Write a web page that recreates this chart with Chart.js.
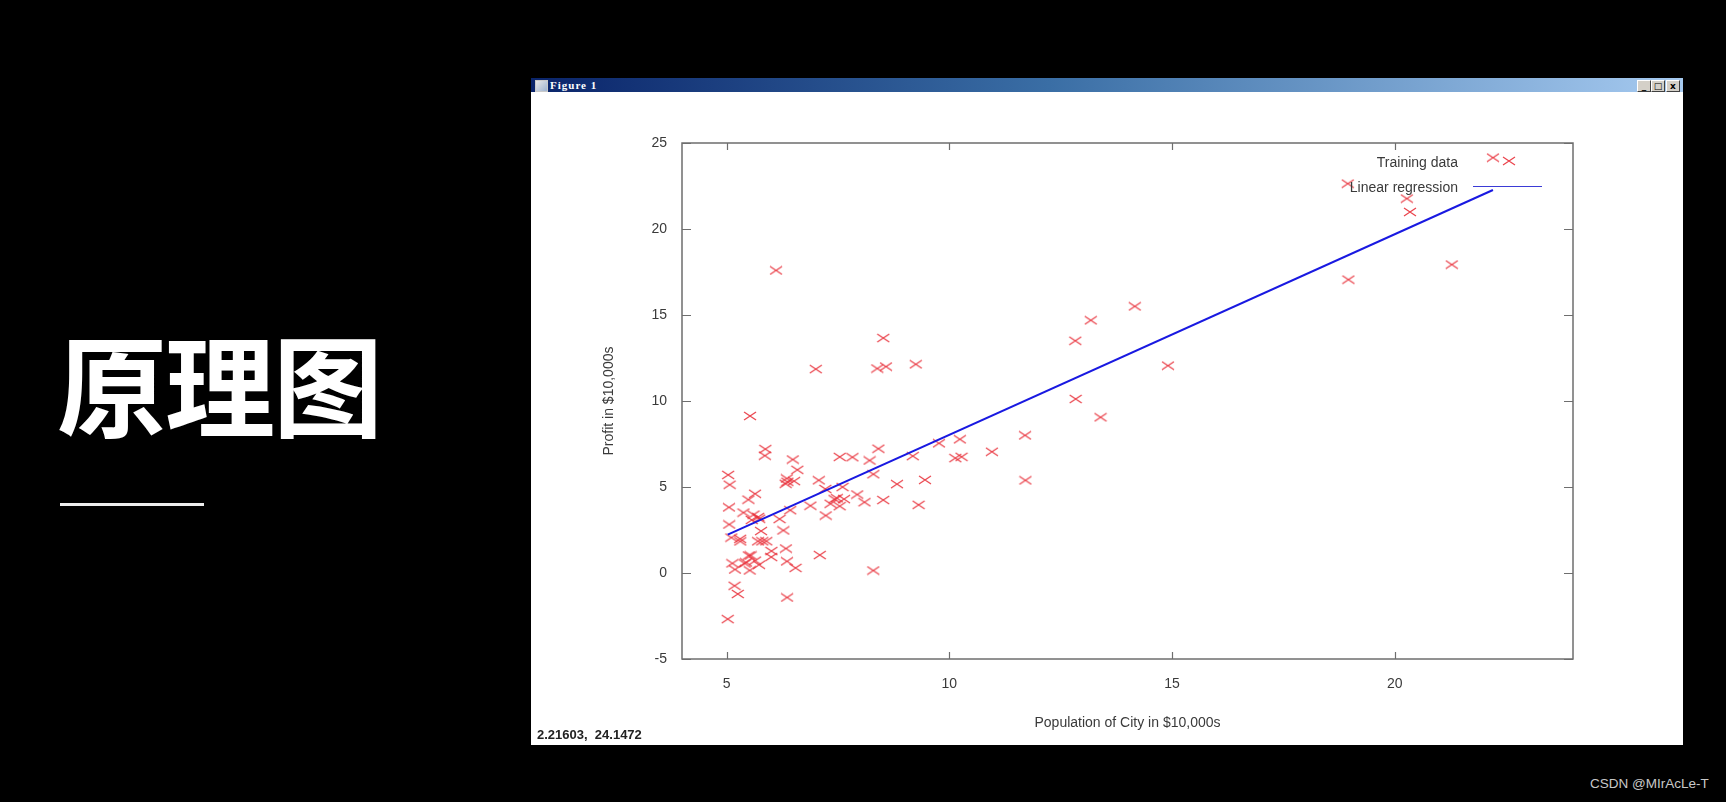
<!DOCTYPE html>
<html>
<head>
<meta charset="utf-8">
<script src="https://cdn.jsdelivr.net/npm/chart.js@4.4.1/dist/chart.umd.min.js"></script>
<style>
  html, body { margin: 0; padding: 0; }
  body {
    width: 1726px; height: 802px; overflow: hidden;
    background: #000; position: relative;
    font-family: "Liberation Sans", Arial, sans-serif;
  }
  #title {
    position: absolute; left: 57px; top: 326px; margin: 0;
    font-family: "Noto Sans CJK SC", sans-serif; font-weight: 700;
    font-size: 110px; line-height: 1; color: #fff; letter-spacing: -2px;
  }
  #rule { position: absolute; left: 60px; top: 503px; width: 144px; height: 3px; background: #eee; }
  #win { position: absolute; left: 531px; top: 78px; width: 1152px; height: 667px; background: #fff; }
  #bar {
    position: absolute; left: 0; top: 0; width: 1152px; height: 14px;
    background: linear-gradient(to right, #0a246a 0%, #3a6ea5 45%, #a6caf0 100%);
  }
  #icon {
    position: absolute; left: 4px; top: 2px; width: 11px; height: 10px;
    background: linear-gradient(135deg, #e8e8e8, #9fb4d0); border: 1px solid #c9c9c9;
  }
  #figname {
    position: absolute; left: 19px; top: 0; line-height: 14px;
    font-family: "Liberation Serif", serif; font-weight: 700; font-size: 11px;
    letter-spacing: 1px; color: #fff;
  }
  .btn {
    position: absolute; top: 2px; width: 12px; height: 10px; background: #d4d0c8;
    border-top: 1px solid #fff; border-left: 1px solid #fff;
    border-right: 1px solid #404040; border-bottom: 1px solid #404040;
    font: bold 9px/10px "DejaVu Sans", sans-serif; color: #000; text-align: center;
  }
  #chartBox { position: absolute; left: 0; top: 14px; width: 1152px; height: 653px; }
  #status {
    position: absolute; left: 6px; top: 649px;
    font-weight: 700; font-size: 13px; color: #222; white-space: pre;
  }
  #mark { position: absolute; left: 1590px; top: 776px; font-size: 13.5px; color: #c8c8c8; }
</style>
</head>
<body>
<h1 id="title">原理图</h1>
<div id="rule"></div>

<div id="win">
  <div id="bar">
    <div id="icon"></div>
    <div id="figname">Figure 1</div>
    <div class="btn" style="left:1106px">_</div>
    <div class="btn" style="left:1120px">□</div>
    <div class="btn" style="left:1135px">x</div>
  </div>
  <div id="chartBox"><canvas id="c" width="1152" height="653"></canvas></div>
  <div id="status">2.21603,  24.1472</div>
</div>

<div id="mark">CSDN @MIrAcLe-T</div>

<script>
// training data: population of city (x) and profit (y), both in $10,000s
const population = [
  6.1101, 5.5277, 8.5186, 7.0032, 5.8598, 8.3829, 7.4764, 8.5781, 6.4862, 5.0546,
  5.7107, 14.164, 5.734, 8.4084, 5.6407, 5.3794, 6.3654, 5.1301, 6.4296, 7.0708,
  6.1891, 20.27, 5.4901, 6.3261, 5.5649, 18.945, 12.828, 10.957, 13.176, 22.203,
  5.2524, 6.5894, 9.2482, 5.8918, 8.2111, 7.9334, 8.0959, 5.6063, 12.836, 6.3534,
  5.4069, 6.8825, 11.708, 5.7737, 7.8247, 7.0931, 5.0702, 5.8014, 11.7, 5.5416,
  7.5402, 5.3077, 7.4239, 7.6031, 6.3328, 6.3589, 6.2742, 5.6397, 9.3102, 9.4536,
  8.8254, 5.1793, 21.279, 14.908, 18.959, 7.2182, 8.2951, 10.236, 5.4994, 20.341,
  10.136, 7.3345, 6.0062, 7.2259, 5.0269, 6.5479, 7.5386, 5.0365, 10.274, 5.1077,
  5.7292, 5.1884, 6.3557, 9.7687, 6.5159, 8.5172, 9.1802, 6.002, 5.5204, 5.0594,
  5.7077, 7.6366, 5.8707, 5.3054, 8.2934, 13.394, 5.4369
];
const profit = [
  17.592, 9.1302, 13.662, 11.854, 6.8233, 11.886, 4.3483, 12, 6.5987, 3.8166,
  3.2522, 15.505, 3.1551, 7.2258, 0.71618, 3.5129, 5.3048, 0.56077, 3.6518, 5.3893,
  3.1386, 21.767, 4.263, 5.1875, 3.0825, 22.638, 13.501, 7.0467, 14.692, 24.147,
  -1.22, 5.9966, 12.134, 1.8495, 6.5426, 4.5623, 4.1164, 3.3928, 10.117, 5.4974,
  0.55657, 3.9115, 5.3854, 2.4406, 6.7318, 1.0463, 5.1337, 1.844, 8.0043, 1.0179,
  6.7504, 1.8396, 4.2885, 4.9981, 1.4233, -1.4211, 2.4756, 4.6042, 3.9624, 5.4141,
  5.1694, -0.74279, 17.929, 12.054, 17.054, 4.8852, 5.7442, 7.7754, 1.0173, 20.992,
  6.6799, 4.0259, 1.2784, 3.3411, -2.6807, 0.29678, 3.8845, 5.7014, 6.7526, 2.0576,
  0.47953, 0.20421, 0.67861, 7.5435, 5.3436, 4.2415, 6.7981, 0.92695, 0.152, 2.8214,
  1.8451, 4.2959, 7.2029, 1.9869, 0.14454, 9.0551, 0.61705
];

// fitted line, end points
const lineX = [5.0269, 22.203];
const lineY = [2.2331, 22.2675];

const xTicks = [5, 10, 15, 20];
const yTicks = [-5, 0, 5, 10, 15, 20, 25];

const labelFont = { family: "'Liberation Sans', Arial, sans-serif", size: 14 };
const textColor = '#3a3a3a';
const axisColor = '#6e6e6e';

// octave style 'x' marker, a bit wider than tall
const marker = document.createElement('canvas');
marker.width = 14;
marker.height = 10;
{
  const m = marker.getContext('2d');
  m.strokeStyle = 'rgba(232, 45, 55, 0.9)';
  m.lineWidth = 1.2;
  m.beginPath();
  m.moveTo(1, 1); m.lineTo(13, 9);
  m.moveTo(13, 1); m.lineTo(1, 9);
  m.stroke();
}

// box round the plot with ticks pointing inwards on all four sides
const frame = {
  id: 'frame',
  afterDatasetsDraw(chart) {
    const { ctx, chartArea: a, scales } = chart;
    ctx.save();
    ctx.strokeStyle = axisColor;
    ctx.lineWidth = 1.5;
    ctx.strokeRect(a.left, a.top, a.right - a.left, a.bottom - a.top);
    ctx.lineWidth = 1.2;
    ctx.beginPath();
    scales.x.ticks.forEach(t => {
      const px = Math.round(scales.x.getPixelForValue(t.value)) + 0.5;
      ctx.moveTo(px, a.bottom); ctx.lineTo(px, a.bottom - 7);
      ctx.moveTo(px, a.top); ctx.lineTo(px, a.top + 7);
    });
    scales.y.ticks.forEach(t => {
      const py = Math.round(scales.y.getPixelForValue(t.value)) + 0.5;
      ctx.moveTo(a.left, py); ctx.lineTo(a.left + 9, py);
      ctx.moveTo(a.right, py); ctx.lineTo(a.right - 9, py);
    });
    ctx.stroke();
    ctx.restore();
  }
};

// legend in the top right corner: text first, sample on its right
const legendBox = {
  id: 'legendBox',
  afterDraw(chart) {
    const { ctx, chartArea: a } = chart;
    const ds = chart.data.datasets;
    const textRight = a.right - 115;
    ctx.save();
    ctx.font = "14px 'Liberation Sans', Arial, sans-serif";
    ctx.fillStyle = textColor;
    ctx.textAlign = 'right';
    ctx.textBaseline = 'middle';
    ctx.fillText(ds[1].label, textRight, a.top + 20);
    ctx.fillText(ds[0].label, textRight, a.top + 45);
    ctx.drawImage(marker, textRight + 44, a.top + 13);
    ctx.strokeStyle = '#3b3bd6';
    ctx.lineWidth = 1.2;
    ctx.beginPath();
    ctx.moveTo(textRight + 15, a.top + 43.5);
    ctx.lineTo(textRight + 84, a.top + 43.5);
    ctx.stroke();
    ctx.restore();
  }
};

new Chart(document.getElementById('c'), {
  type: 'scatter',
  data: {
    datasets: [
      {
        label: 'Linear regression',
        data: lineX.map((x, i) => ({ x, y: lineY[i] })),
        showLine: true,
        borderColor: 'rgb(25, 25, 225)',
        borderWidth: 2,
        pointRadius: 0,
        order: 0
      },
      {
        label: 'Training data',
        data: population.map((x, i) => ({ x, y: profit[i] })),
        pointStyle: marker,
        order: 1
      }
    ]
  },
  options: {
    responsive: false,
    animation: false,
    layout: { padding: { top: 51, right: 110, left: 0, bottom: 0 } },
    plugins: {
      legend: { display: false },
      tooltip: { enabled: false }
    },
    scales: {
      x: {
        type: 'linear',
        min: 4,
        max: 24,
        grid: { display: false, drawTicks: false },
        border: { display: false },
        ticks: { padding: 17, color: textColor, font: labelFont },
        afterBuildTicks: s => { s.ticks = xTicks.map(v => ({ value: v })) },
        title: {
          display: true, text: 'Population of City in $10,000s',
          color: textColor, font: labelFont, padding: { top: 0, bottom: 13.6 }
        },
        afterFit: s => { s.height = 86 }
      },
      y: {
        type: 'linear',
        min: -5,
        max: 25,
        grid: { display: false, drawTicks: false },
        border: { display: false },
        ticks: { padding: 15, color: textColor, font: labelFont },
        afterBuildTicks: s => { s.ticks = yTicks.map(v => ({ value: v })) },
        title: {
          display: true, text: 'Profit in $10,000s',
          color: textColor, font: labelFont, padding: { top: 69.6, bottom: 0 }
        },
        afterFit: s => { s.width = 151 }
      }
    }
  },
  plugins: [frame, legendBox]
});
</script>
</body>
</html>
